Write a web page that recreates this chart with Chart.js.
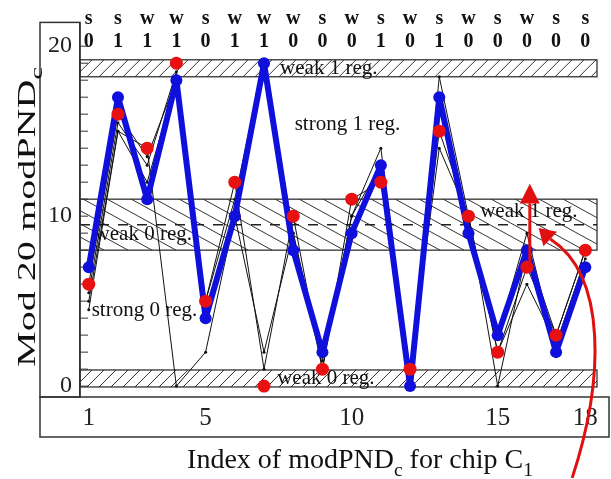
<!DOCTYPE html>
<html>
<head>
<meta charset="utf-8">
<script src="https://cdn.jsdelivr.net/npm/chart.js@4/dist/chart.umd.min.js"></script>
<style>
  html, body { margin: 0; padding: 0; background: #fff; }
</style>
</head>
<body>
<canvas id="grafico" width="611" height="479"></canvas>
<script>
// dados
const indices = [1, 2, 3, 4, 5, 6, 7, 8, 9, 10, 11, 12, 13, 14, 15, 16, 17, 18];
const tipoBit = ['s', 's', 'w', 'w', 's', 'w', 'w', 'w', 's', 'w', 's', 'w', 's', 'w', 's', 'w', 's', 's'];
const valorBit = ['0', '1', '1', '1', '0', '1', '1', '0', '0', '0', '1', '0', '1', '0', '0', '0', '0', '0'];
const serieAzul = [7, 17, 11, 18, 4, 10, 19, 8, 2, 9, 13, 0, 17, 9, 3, 8, 2, 7];
const serieVermelha = [6, 16, 14, 19, 5, 12, 0, 10, 1, 11, 12, 1, 15, 10, 2, 7, 3, 8];
const chip1 = [5, 15, 12, 18, 4, 10, 19, 8, 2, 9, 13, 0, 17, 9, 3, 9, 2, 7];
const chip2 = [5.5, 15.5, 13, 18.5, 5, 11, 19.2, 9, 1.5, 10, 14, 0.5, 18.2, 10, 0, 8, 3, 8];
const chip3 = [4.5, 15, 14, 0, 2, 10, 2, 9, 1, 10, 13, 1, 14, 10, 2, 6, 2.5, 7.5];
const chip4 = [6, 16, 13.5, 18, 5, 12, 1, 10, 1, 11, 12, 1, 15, 10, 2, 7, 3, 8];
const ticksX = [1, 5, 10, 15, 18];
const ticksY = [0, 10, 20];

// faixas (regioes fracas) em unidades do eixo y
const faixas = [
    { de: 18.2, ate: 19.2, tipo: 'densa' },
    { de: 8, ate: 11, tipo: 'larga', tracejado: 9.5 },
    { de: -0.05, ate: 0.95, tipo: 'densa' }
];
const rotulos = [
    { txt: 'weak 1 reg.', x: 7.55, y: 18.7 },
    { txt: 'strong 1 reg.', x: 8.05, y: 15.4 },
    { txt: 'weak 1 reg.', x: 14.4, y: 10.3 },
    { txt: 'weak 0 reg.', x: 1.2, y: 8.95 },
    { txt: 'strong 0 reg.', x: 1.1, y: 4.45 },
    { txt: 'weak 0 reg.', x: 7.45, y: 0.45 }
];

const FONTE = "'Liberation Serif', 'Times New Roman', serif";

function pontos(valores) {
    return indices.map(function (x, i) { return { x: x, y: valores[i] }; });
}

function linhaPreta(valores) {
    return {
        data: pontos(valores),
        borderColor: '#111',
        backgroundColor: '#111',
        borderWidth: 1,
        pointRadius: 1.5,
        pointBorderWidth: 0
    };
}

// texto com subscrito
function textoSub(ctx, partes, x, y, tam) {
    var cx = x;
    partes.forEach(function (p) {
        var t = p.sub ? tam * 0.7 : tam;
        ctx.font = t + 'px ' + FONTE;
        ctx.fillText(p.t, cx, p.sub ? y + tam * 0.28 : y);
        cx += ctx.measureText(p.t).width;
    });
    return cx - x;
}
function larguraSub(ctx, partes, tam) {
    var w = 0;
    partes.forEach(function (p) {
        ctx.font = (p.sub ? tam * 0.7 : tam) + 'px ' + FONTE;
        w += ctx.measureText(p.t).width;
    });
    return w;
}

const decoracao = {
    id: 'decoracao',
    beforeDraw: function (chart) {
        var ctx = chart.ctx;
        ctx.save();
        ctx.fillStyle = '#fff';
        ctx.fillRect(0, 0, chart.width, chart.height);
        ctx.restore();
    },
    beforeDatasetsDraw: function (chart) {
        var ctx = chart.ctx, a = chart.chartArea;
        var sy = chart.scales.y, sx = chart.scales.x;
        ctx.save();
        faixas.forEach(function (f) {
            var y1 = sy.getPixelForValue(f.ate), y2 = sy.getPixelForValue(f.de);
            ctx.save();
            ctx.beginPath();
            ctx.rect(a.left, y1, a.right - a.left, y2 - y1);
            ctx.clip();
            ctx.strokeStyle = '#333';
            ctx.lineWidth = 1;
            ctx.beginPath();
            var h = y2 - y1;
            if (f.tipo === 'densa') {
                for (var x = a.left - h; x < a.right + h; x += 12) {
                    ctx.moveTo(x, y2);
                    ctx.lineTo(x + h, y1);
                }
            } else {
                var dx = h / 0.55;
                for (var x2 = a.left - dx; x2 < a.right + dx; x2 += 24) {
                    ctx.moveTo(x2, y1);
                    ctx.lineTo(x2 + dx, y2);
                }
            }
            ctx.stroke();
            ctx.restore();
            ctx.strokeStyle = '#222';
            ctx.lineWidth = 1.2;
            ctx.strokeRect(a.left, y1, a.right - a.left, h);
            if (f.tracejado !== undefined) {
                var yd = sy.getPixelForValue(f.tracejado);
                ctx.save();
                ctx.setLineDash([10, 9]);
                ctx.lineWidth = 1.5;
                ctx.beginPath();
                ctx.moveTo(a.left, yd);
                ctx.lineTo(a.right, yd);
                ctx.stroke();
                ctx.restore();
            }
        });
        // marcas menores no eixo y
        ctx.strokeStyle = '#333';
        ctx.lineWidth = 1;
        ctx.beginPath();
        for (var v = 0; v <= 20; v++) {
            var yy = sy.getPixelForValue(v);
            ctx.moveTo(a.left, yy);
            ctx.lineTo(a.left + 8, yy);
        }
        ctx.stroke();
        // rotulos das regioes
        ctx.fillStyle = '#111';
        ctx.font = '21px ' + FONTE;
        ctx.textBaseline = 'middle';
        ctx.textAlign = 'left';
        rotulos.forEach(function (r) {
            ctx.fillText(r.txt, sx.getPixelForValue(r.x), sy.getPixelForValue(r.y));
        });
        ctx.restore();
    },
    afterDraw: function (chart) {
        var ctx = chart.ctx, a = chart.chartArea;
        var sx = chart.scales.x, sy = chart.scales.y;
        ctx.save();
        // caixas dos eixos
        ctx.strokeStyle = '#333';
        ctx.lineWidth = 1.5;
        ctx.strokeRect(40, a.top, a.left - 40, a.bottom - a.top);
        ctx.strokeRect(40, a.bottom, 609 - 40, 40);

        // linha s/w e 0/1 no topo
        ctx.fillStyle = '#111';
        ctx.textAlign = 'center';
        ctx.textBaseline = 'alphabetic';
        ctx.font = 'bold 20px ' + FONTE;
        indices.forEach(function (x, i) {
            var px = sx.getPixelForValue(x);
            ctx.fillText(tipoBit[i], px, 24);
            ctx.fillText(valorBit[i], px, 47);
        });

        // titulo do eixo x
        ctx.textAlign = 'left';
        var tituloX = [{ t: 'Index of modPND' }, { t: 'c', sub: true }, { t: ' for chip C' }, { t: '1', sub: true }];
        var wx = larguraSub(ctx, tituloX, 28);
        textoSub(ctx, tituloX, 360 - wx / 2, 468, 28);

        // titulo do eixo y (esticado como no original)
        var tituloY = [{ t: 'Mod 20 modPND' }, { t: 'c', sub: true }];
        var wy = larguraSub(ctx, tituloY, 25);
        ctx.save();
        ctx.translate(35, 217);
        ctx.rotate(-Math.PI / 2);
        ctx.scale(300 / wy, 1);
        textoSub(ctx, tituloY, -wy / 2, 0, 25);
        ctx.restore();

        // setas vermelhas
        ctx.strokeStyle = '#e01010';
        ctx.fillStyle = '#e01010';
        ctx.lineWidth = 3;
        var bx = sx.getPixelForValue(16.1);
        var yb = sy.getPixelForValue(7), yt = sy.getPixelForValue(11.9), yh = sy.getPixelForValue(10.75);
        ctx.beginPath();
        ctx.moveTo(bx, yb);
        ctx.lineTo(bx, yh);
        ctx.stroke();
        ctx.beginPath();
        ctx.moveTo(bx, yt);
        ctx.lineTo(bx - 10, yh);
        ctx.lineTo(bx + 10, yh);
        ctx.closePath();
        ctx.fill();

        var p = function (x, y) { return [sx.getPixelForValue(x), sy.getPixelForValue(y)]; };
        var p0 = p(17.55, -5.4), p1 = p(18.65, 0.35), p2 = p(18.75, 6.5), p3 = p(16.8, 8.65);
        ctx.beginPath();
        ctx.moveTo(p0[0], p0[1]);
        ctx.bezierCurveTo(p1[0], p1[1], p2[0], p2[1], p3[0], p3[1]);
        ctx.stroke();
        var ponta = p(16.4, 9.3);
        var ang = Math.atan2(ponta[1] - p3[1], ponta[0] - p3[0]);
        ctx.beginPath();
        ctx.moveTo(ponta[0], ponta[1]);
        ctx.lineTo(p3[0] + 10 * Math.cos(ang + Math.PI / 2), p3[1] + 10 * Math.sin(ang + Math.PI / 2));
        ctx.lineTo(p3[0] - 10 * Math.cos(ang + Math.PI / 2), p3[1] - 10 * Math.sin(ang + Math.PI / 2));
        ctx.closePath();
        ctx.fill();
        ctx.restore();
    }
};

var ctxGrafico = document.getElementById('grafico').getContext('2d');
var grafico = new Chart(ctxGrafico, {
    type: 'line',
    data: {
        datasets: [
            {
                data: pontos(serieVermelha),
                showLine: false,
                pointRadius: 6.5,
                pointBackgroundColor: '#e81010',
                pointBorderColor: '#e81010',
                pointBorderWidth: 0
            },
            {
                data: pontos(serieAzul),
                borderColor: '#1010dc',
                backgroundColor: '#1010dc',
                borderWidth: 6,
                borderJoinStyle: 'round',
                borderCapStyle: 'round',
                pointRadius: 6,
                pointBorderWidth: 0
            },
            linhaPreta(chip1),
            linhaPreta(chip2),
            linhaPreta(chip3),
            linhaPreta(chip4)
        ]
    },
    options: {
        responsive: false,
        animation: false,
        devicePixelRatio: 1,
        clip: false,
        layout: { padding: { left: 40, right: 14, top: 20, bottom: 42 } },
        plugins: { legend: { display: false }, tooltip: { enabled: false } },
        elements: { line: { tension: 0 } },
        scales: {
            x: {
                type: 'linear',
                min: 0.7,
                max: 18.4,
                afterFit: function (s) { s.height = 40; },
                afterBuildTicks: function (s) { s.ticks = ticksX.map(function (v) { return { value: v }; }); },
                grid: { display: false, drawTicks: false },
                border: { display: false },
                ticks: { font: { family: FONTE, size: 25 }, color: '#222', padding: 6, maxRotation: 0 }
            },
            y: {
                type: 'linear',
                min: -0.64,
                max: 21.4,
                afterFit: function (s) { s.width = 40; },
                afterBuildTicks: function (s) { s.ticks = ticksY.map(function (v) { return { value: v }; }); },
                grid: { display: false, drawTicks: false },
                border: { display: true, color: '#333', width: 1.5 },
                ticks: { font: { family: FONTE, size: 24 }, color: '#222', padding: 8 }
            }
        }
    },
    plugins: [decoracao]
});
</script>
</body>
</html>
